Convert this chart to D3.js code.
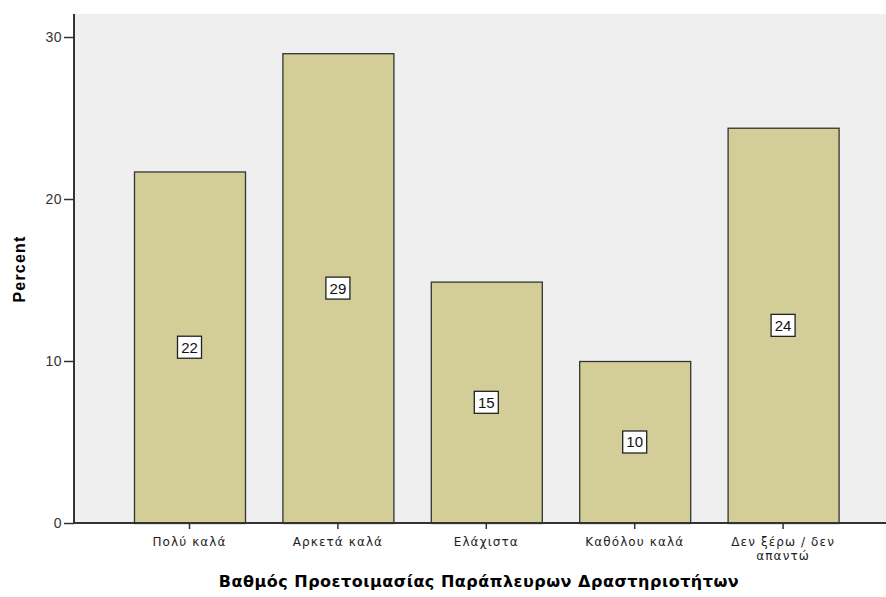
<!DOCTYPE html>
<html><head><meta charset="utf-8">
<script src="https://cdn.jsdelivr.net/npm/d3@7"></script>
<style>html,body{margin:0;padding:0;background:#fff;}svg{display:block;}</style>
</head><body>
<svg id="chart" width="886" height="597"></svg>
<script>
const categories = ["Πολύ καλά", "Αρκετά καλά", "Ελάχιστα", "Καθόλου καλά", "Δεν ξέρω / δεν απαντώ"];
const categoryLines = [["Πολύ καλά"], ["Αρκετά καλά"], ["Ελάχιστα"], ["Καθόλου καλά"], ["Δεν ξέρω / δεν", "απαντώ"]];
const percents = [21.7, 29.0, 14.9, 10.0, 24.4];
const barLabels = ["22", "29", "15", "10", "24"];
const yTicks = [0, 10, 20, 30];
const yTitle = "Percent";
const xTitle = "Βαθμός Προετοιμασίας Παράπλευρων Δραστηριοτήτων";

(function () {
const svg = d3.select("#chart");
const pL = 74, pR = 886, pT = 14, pB = 523;
const font = "'DejaVu Sans', Verdana, sans-serif";
const sans = "'Liberation Sans', Arial, sans-serif";

const x = d3.scaleBand().domain(categories).range([115.3, 857.3]).paddingInner(0.252).paddingOuter(0.126);
const y = d3.scaleLinear().domain([0, 31.42]).range([pB, pT]);

svg.append("rect").attr("x", pL).attr("y", pT).attr("width", pR - pL).attr("height", pB - pT).attr("fill", "#efefef");

svg.selectAll("rect.bar").data(percents).enter().append("rect").attr("class", "bar")
  .attr("x", (d, i) => x(categories[i]) + 0.5)
  .attr("y", d => y(d) + 0.5)
  .attr("width", x.bandwidth())
  .attr("height", d => pB - y(d))
  .attr("fill", "#d3ce97").attr("stroke", "#333").attr("stroke-width", 1.3);

const lab = svg.selectAll("g.lab").data(percents).enter().append("g").attr("class", "lab")
  .attr("transform", (d, i) => `translate(${x(categories[i]) + x.bandwidth() / 2},${y(d / 2)})`);
lab.append("rect").attr("x", -12).attr("y", -11).attr("width", 24).attr("height", 22)
  .attr("fill", "#fff").attr("stroke", "#222").attr("stroke-width", 1.3);
lab.append("text").text((d, i) => barLabels[i]).attr("text-anchor", "middle").attr("dy", "0.36em")
  .attr("font-family", sans).attr("font-size", 15).attr("fill", "#111");

const yAxis = svg.append("g").attr("transform", `translate(${pL},0)`)
  .call(d3.axisLeft(y).tickValues(yTicks).tickSize(10).tickPadding(2).tickFormat(d3.format("d")));
yAxis.select(".domain").attr("d", `M0,${pT}V${pB}`).attr("stroke", "#333").attr("stroke-width", 2);
yAxis.selectAll(".tick line").attr("stroke", "#333").attr("stroke-width", 1.5);
yAxis.selectAll(".tick text").attr("font-family", sans).attr("font-size", 14).attr("letter-spacing", 0.5).attr("fill", "#333");

const xAxis = svg.append("g").attr("transform", `translate(0,${pB})`)
  .call(d3.axisBottom(x).tickSize(6).tickFormat(""));
xAxis.select(".domain").attr("d", `M${pL},0H${pR}`).attr("stroke", "#333").attr("stroke-width", 2);
xAxis.selectAll(".tick line").attr("stroke", "#333").attr("stroke-width", 1.5);
xAxis.selectAll(".tick").each(function(d, i) {
  const g = d3.select(this);
  categoryLines[i].forEach((line, j) => g.append("text").attr("text-anchor", "middle").attr("fill", "#222")
    .attr("font-family", font).attr("font-size", 12).attr("letter-spacing", 1.1)
    .attr("x", 0).attr("y", 23 + j * 14).text(line));
});

svg.append("text").text(yTitle).attr("transform", `translate(25,269) rotate(-90)`)
  .attr("text-anchor", "middle").attr("font-family", sans)
  .attr("font-weight", "bold").attr("font-size", 16).attr("letter-spacing", 1.2).attr("fill", "#000");
svg.append("text").text(xTitle).attr("x", 479).attr("y", 587).attr("text-anchor", "middle")
  .attr("font-family", font).attr("font-weight", "bold").attr("font-size", 16).attr("letter-spacing", 0.5).attr("fill", "#000");
})();
</script>
</body></html>
